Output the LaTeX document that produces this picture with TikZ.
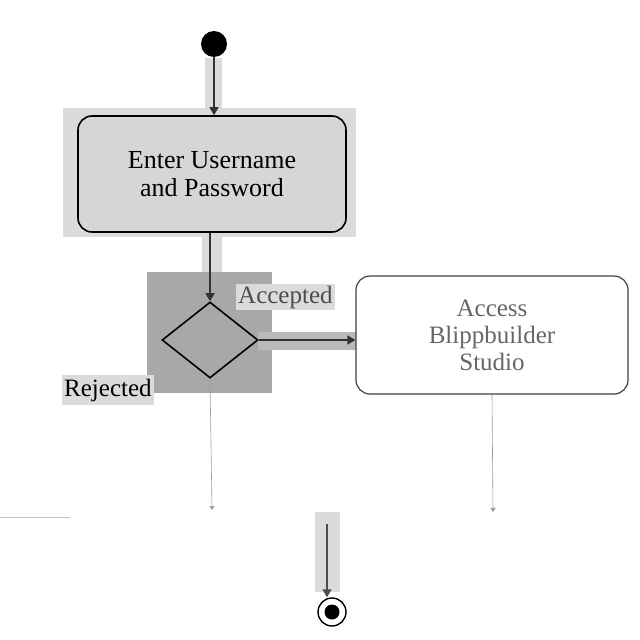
\documentclass[tikz,border=0pt]{standalone}
\usepackage{fontspec}
\setmainfont{Liberation Serif}
\usetikzlibrary{arrows.meta,shapes.geometric}
\definecolor{hlgray}{gray}{0.86}
\definecolor{boxgray}{gray}{0.84}
\definecolor{dkgray}{gray}{0.66}
\definecolor{faint}{gray}{0.6}
\tikzset{
  act/.style={draw=black, line width=1.6pt, rounded corners=14pt, align=center, font=\fontsize{26}{28}\selectfont},
  flow/.style={draw=black!80, line width=1.6pt, -{Triangle[length=8pt,width=9pt]}},
  thin/.style={draw=faint, line width=0.6pt, -{Triangle[length=4pt,width=5pt]}},
  lbl/.style={font=\fontsize{25}{28}\selectfont, inner sep=2pt}
}
\begin{document}
\begin{tikzpicture}[x=1pt,y=-1pt]
\useasboundingbox (0,0) rectangle (640,640);
% highlight backgrounds
\fill[hlgray] (63,108) rectangle (356,237);
\fill[dkgray] (147,272) rectangle (272,393);
\fill[hlgray] (205,58) rectangle (222,116);
\fill[hlgray] (202,237) rectangle (222,272);
\fill[dkgray!80] (258,332) rectangle (356,350);
\fill[hlgray] (315,512) rectangle (340,592);
% nodes
\node[circle, fill=black, minimum size=26pt, inner sep=0pt] (start) at (214,44) {};
\node[act, fill=boxgray, minimum width=268pt, minimum height=116pt] (enter) at (212,174) {Enter Username\\and Password};
\node[diamond, draw=black, line width=1.6pt, fill=dkgray, minimum width=96pt, minimum height=76pt, inner sep=0pt, aspect=1.26] (dec) at (210,340) {};
\node[act, draw=black!75, line width=1.2pt, fill=white, text=black!60, minimum width=272pt, minimum height=118pt, font=\fontsize{25}{27}\selectfont] (access) at (492,335) {Access\\Blippbuilder\\Studio};
\node[circle, draw=black, line width=1.4pt, minimum size=28pt, inner sep=0pt] (end) at (332,612) {};
\node[circle, fill=black, minimum size=15pt, inner sep=0pt] at (end) {};
% labels
\node[lbl, fill=hlgray, anchor=west, text=black!70] (acc) at (236,297) {Accepted};
\node[lbl, fill=hlgray, anchor=west, minimum height=30pt] (rej) at (62,390) {Rejected};
% coordinates
\coordinate (r1) at (212,510);
\coordinate (r2) at (493,512);
\coordinate (l1) at (0,517);
\coordinate (l2) at (70,517);
\coordinate (e0) at (327,524);
% connectors
\draw[flow] (start) -- (enter.north -| start);
\draw[flow] (enter.south -| dec.north) -- (dec.north);
\draw[flow] (dec.east) -- (access.west |- dec.east);
\draw[thin] (dec.south) -- (r1);
\draw[thin] (access.south) -- (r2);
\draw[draw=faint!60, line width=0.6pt] (l1) -- (l2);
\draw[flow, draw=black!70, line width=1.2pt] (e0) -- (end.north -| e0);
\end{tikzpicture}
\end{document}
